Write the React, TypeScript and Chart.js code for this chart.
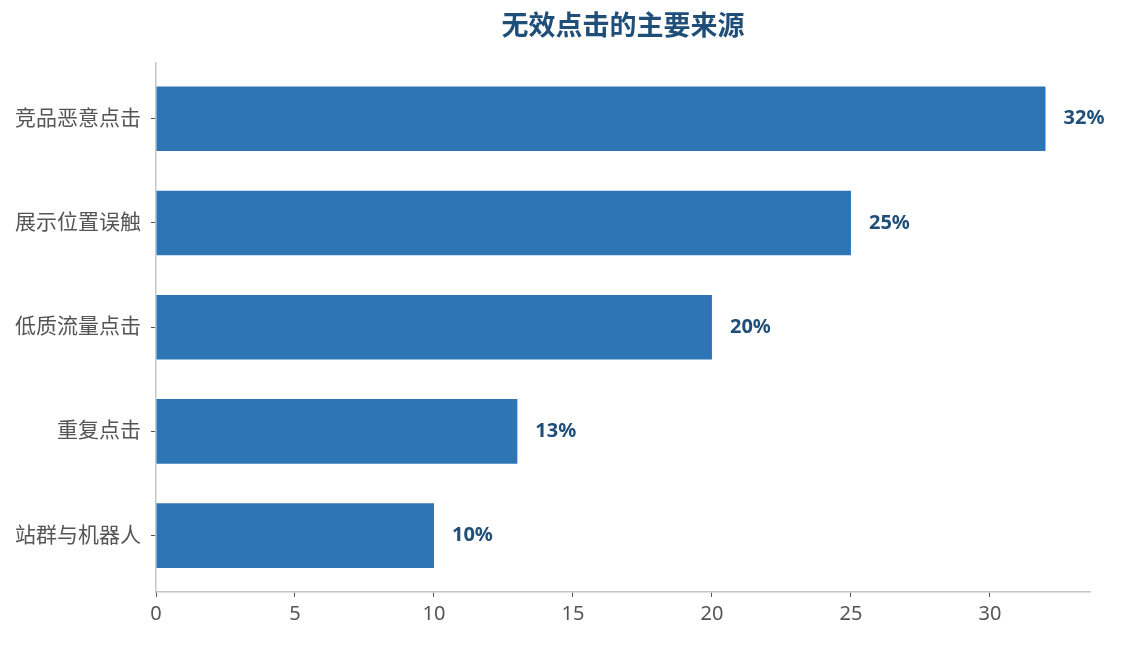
import { useEffect, useRef } from 'react'
import Chart from 'chart.js/auto';

const categories = ['竞品恶意点击', '展示位置误触', '低质流量点击', '重复点击', '站群与机器人'];
const shares = [32, 25, 20, 13, 10];
const xTicks = [0, 5, 10, 15, 20, 25, 30];

const FONT = "'Noto Sans', 'Noto Sans CJK SC', sans-serif";

const valueLabels = {
    id: 'valueLabels',
    afterDatasetsDraw(chart: any) {
        const ctx = chart.ctx;
        const meta = chart.getDatasetMeta(0);
        ctx.save();
        ctx.font = `bold 20px ${FONT}`;
        ctx.fillStyle = '#1f4e79';
        ctx.textAlign = 'left';
        ctx.textBaseline = 'middle';
        meta.data.forEach((bar: any, i: number) => {
            ctx.fillText(shares[i] + '%', bar.x + 18, bar.y);
        });
        ctx.restore();
    },
};

const App = () => {
    const chartRef = useRef<HTMLCanvasElement>(null);

    useEffect(() => {
        if (!chartRef.current) return;
        const myChart = new Chart(chartRef.current, {
            type: 'bar',
            data: {
                datasets: [
                    {
                        label: '占比',
                        data: shares.map((v, i) => ({ x: v, y: i })),
                        backgroundColor: '#2e75b6',
                        barPercentage: 0.62,
                        categoryPercentage: 1,
                    },
                ],
            },
            options: {
                indexAxis: 'y',
                animation: false,
                responsive: true,
                maintainAspectRatio: false,
                layout: { padding: { left: 0, right: 33, top: 0, bottom: 0 } },
                plugins: {
                    legend: { display: false },
                    tooltip: { enabled: false },
                    title: {
                        display: true,
                        text: '无效点击的主要来源',
                        fullSize: false,
                        color: '#1f4e79',
                        font: { family: FONT, size: 27, weight: 'bold' },
                        padding: { top: 11, bottom: 19 },
                    },
                },
                scales: {
                    x: {
                        type: 'linear',
                        min: 0,
                        max: 33.6,
                        afterBuildTicks: (scale: any) => {
                            scale.ticks = xTicks.map((v) => ({ value: v }));
                        },
                        afterFit: (scale: any) => {
                            scale.height = 53;
                        },
                        grid: { drawOnChartArea: false, drawTicks: true, tickLength: 5, color: '#555', lineWidth: 1 },
                        border: { display: true, color: '#c6c6c6', width: 1.5 },
                        ticks: { color: '#555', padding: 5, font: { family: FONT, size: 20 } },
                    },
                    y: {
                        type: 'linear',
                        reverse: true,
                        offset: false,
                        min: -0.541,
                        max: 4.541,
                        afterBuildTicks: (scale: any) => {
                            scale.ticks = categories.map((_, i) => ({ value: i }));
                        },
                        afterFit: (scale: any) => {
                            scale.width = 156;
                        },
                        grid: { offset: false, drawOnChartArea: false, drawTicks: true, tickLength: 5, color: '#555', lineWidth: 1 },
                        border: { display: true, color: '#c6c6c6', width: 1.5 },
                        ticks: {
                            color: '#555',
                            padding: 10,
                            font: { family: FONT, size: 21 },
                            callback: (value: any) => categories[value as number] ?? '',
                        },
                    },
                },
            },
            plugins: [valueLabels],
        } as any);

        return () => {
            myChart.destroy();
        };
    }, []);

    return (
        <div style={{ position: 'fixed', left: 0, top: 0, width: 1123, height: 645, background: '#fff' }}>
            <canvas ref={chartRef} />
        </div>
    );
};

export default App;
